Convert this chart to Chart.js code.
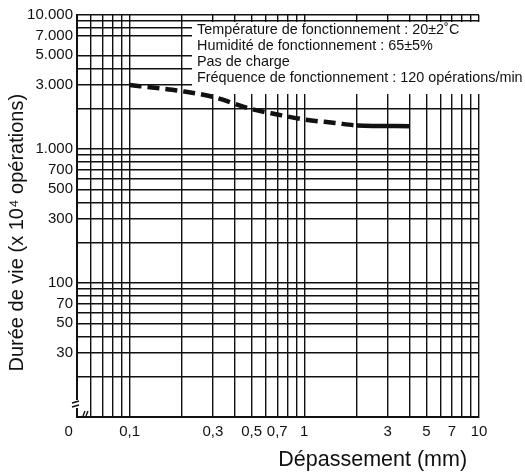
<!DOCTYPE html>
<html>
<head>
<meta charset="utf-8">
<script src="https://cdn.jsdelivr.net/npm/chart.js@4/dist/chart.umd.min.js"></script>
<style>
  body { margin: 0; background: #fff; }
  canvas { display: block; }
</style>
</head>
<body>
<canvas id="lifeChart" width="525" height="473"></canvas>
<script>
// overtravel (mm) vs. life (x 10^4 operations)
const overtravel = [0.1, 0.15, 0.2, 0.3, 0.5, 0.7, 1, 1.5, 2, 4];
const lifeOps = [3000, 2830, 2700, 2450, 1985, 1810, 1660, 1565, 1500, 1480];
const solidFrom = 2; // curve is dashed below this overtravel

// log grid lines (the 6.000 line is absent in the original)
const gridX = [0.05, 0.06, 0.07, 0.08, 0.09, 0.1, 0.2, 0.3, 0.4, 0.5, 0.6, 0.7, 0.8, 0.9,
    1, 2, 3, 4, 5, 6, 7, 8, 9, 10];
const gridY = [10, 20, 30, 40, 50, 60, 70, 80, 90, 100, 200, 300, 400, 500, 600, 700, 800, 900,
    1000, 2000, 3000, 4000, 5000, 7000, 8000, 9000, 10000];

// tick labels
const xLabelValues = [0.05, 0.1, 0.3, 0.5, 0.7, 1, 3, 5, 7, 10];
const xLabelTexts = ['0    ', '0,1', '0,3', '0,5', '0,7', '1', '3', '5', '7', '10'];
const yLabelValues = [30, 50, 70, 100, 300, 500, 700, 1000, 3000, 5000, 7000, 10000];
const yLabelTexts = ['30', '50', '70', '100', '300', '500', '700', '1.000', '3.000', '5.000', '7.000', '10.000'];

const noteLines = [
    'Température de fonctionnement : 20±2˚C',
    'Humidité de fonctionnement : 65±5%',
    'Pas de charge',
    'Fréquence de fonctionnement : 120 opérations/min'
];

const FONT = '"Liberation Sans", Arial, Helvetica, sans-serif';
const INK = '#111';

// white box with the test conditions, drawn over the grid
const noteBox = {
    id: 'noteBox',
    beforeDatasetsDraw(chart) {
        const { ctx, chartArea } = chart;
        ctx.save();
        ctx.fillStyle = '#fff';
        ctx.fillRect(192, chartArea.top + 7, chart.width - 192, 72);
        ctx.fillStyle = INK;
        ctx.font = '14.4px ' + FONT;
        ctx.textBaseline = 'alphabetic';
        noteLines.forEach((t, i) => ctx.fillText(t, 197, 33.5 + i * 16.1));
        ctx.restore();
    }
};

// axis break marks near the origin
const axisBreaks = {
    id: 'axisBreaks',
    afterDraw(chart) {
        const { ctx, chartArea } = chart;
        const l = chartArea.left, b = chartArea.bottom;
        ctx.save();
        ctx.fillStyle = '#fff';
        ctx.fillRect(l - 2, b - 17, 4, 8);
        ctx.strokeStyle = INK;
        ctx.lineWidth = 1.4;
        ctx.beginPath();
        ctx.moveTo(l - 5, b - 14); ctx.lineTo(l + 2, b - 16);
        ctx.moveTo(l - 5, b - 10); ctx.lineTo(l + 2, b - 12);
        ctx.moveTo(l + 6, b - 1); ctx.lineTo(l + 8, b - 6);
        ctx.moveTo(l + 9, b - 1); ctx.lineTo(l + 11, b - 6);
        ctx.stroke();
        ctx.restore();
    }
};

var ctx = document.getElementById('lifeChart').getContext('2d');

var chart = new Chart(ctx, {
    type: 'line',
    data: {
        datasets: [{
            data: overtravel.map((x, i) => ({ x: x, y: lifeOps[i] })),
            borderColor: INK,
            borderWidth: 4.5,
            borderDash: [12, 6],
            borderCapStyle: 'butt',
            pointRadius: 0,
            cubicInterpolationMode: 'monotone',
            segment: {
                borderDash: c => c.p0.parsed.x >= solidFrom ? [] : undefined
            }
        }]
    },
    options: {
        responsive: false,
        animation: false,
        layout: { padding: { top: 15, right: 46, bottom: 0, left: 0 } },
        plugins: {
            legend: { display: false },
            tooltip: { enabled: false }
        },
        scales: {
            x: {
                type: 'logarithmic',
                min: 0.05,
                max: 10,
                afterBuildTicks: s => { s.ticks = gridX.map(v => ({ value: v })); },
                afterFit: s => { s.height = 56; },
                grid: { color: INK, lineWidth: 1.4, drawTicks: false },
                border: { color: INK, width: 2 },
                ticks: {
                    autoSkip: false,
                    maxRotation: 0,
                    padding: 6,
                    color: INK,
                    font: { family: FONT, size: 15 },
                    callback: v => {
                        const k = xLabelValues.findIndex(a => Math.abs(a - v) < 1e-9);
                        return k < 0 ? '' : xLabelTexts[k];
                    }
                },
                title: {
                    display: true,
                    text: 'Dépassement (mm)  ',
                    align: 'end',
                    color: INK,
                    font: { family: FONT, size: 21.5 },
                    padding: { top: 0, bottom: 0 }
                }
            },
            y: {
                type: 'logarithmic',
                min: 10,
                max: 10000,
                afterBuildTicks: s => { s.ticks = gridY.map(v => ({ value: v })); },
                afterFit: s => { s.width = 77; },
                grid: { color: INK, lineWidth: 1.4, drawTicks: false },
                border: { color: INK, width: 2 },
                ticks: {
                    autoSkip: false,
                    padding: 4,
                    color: INK,
                    font: { family: FONT, size: 15 },
                    callback: v => {
                        const k = yLabelValues.indexOf(v);
                        return k < 0 ? '' : yLabelTexts[k];
                    }
                },
                title: {
                    display: true,
                    text: 'Durée de vie (x 10⁴ opérations)      ',
                    color: INK,
                    font: { family: FONT, size: 20 },
                    padding: { top: 5, bottom: 0 }
                }
            }
        }
    },
    plugins: [noteBox, axisBreaks]
});
</script>
</body>
</html>
